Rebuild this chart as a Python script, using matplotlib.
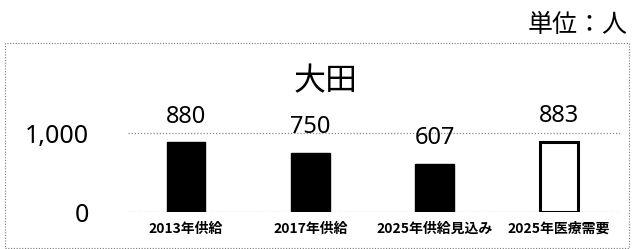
import matplotlib
matplotlib.use("Agg")
import matplotlib.pyplot as plt
from matplotlib.patches import Rectangle

plt.rcParams['font.family'] = ['Noto Sans CJK JP', 'DejaVu Sans']

categories = ["2013年供給", "2017年供給", "2025年供給見込み", "2025年医療需要"]
values = [880, 750, 607, 883]
filled = [True, True, True, False]
title = "大田"
unit_label = "単位：人"
yticks = [0, 1000]
ytick_labels = ["0", "1,000"]

W, H = 635, 249
fig = plt.figure(figsize=(W / 100, H / 100), dpi=100)

def fx(px):
    return px / W

def fy(py):
    return 1 - py / H

# outer dotted frame
fig.patches.append(Rectangle((fx(5), fy(248)), fx(629) - fx(5), fy(43) - fy(248),
                             transform=fig.transFigure, fill=False,
                             edgecolor="#777777", linestyle=(0, (1, 1.5)), linewidth=0.8))

ax_left, ax_right = 128, 620
ax_bottom, ax_top = 212, 60
ax = fig.add_axes([fx(ax_left), fy(ax_bottom), fx(ax_right) - fx(ax_left), fy(ax_top) - fy(ax_bottom)])
px_per_unit = 79 / 1000
ax.set_ylim(0, (ax_bottom - ax_top) / px_per_unit)
spacing = 124.3
xmin = -(186 - ax_left) / spacing
xmax = xmin + (ax_right - ax_left) / spacing
ax.set_xlim(xmin, xmax)

for yv in yticks:
    ax.axhline(yv, color="#888888", linestyle=(0, (1, 1.5)), linewidth=0.9, zorder=1)

x = list(range(len(categories)))
for i, (v, f) in enumerate(zip(values, filled)):
    if f:
        ax.bar(i, v, width=0.31, color="black", edgecolor="black", zorder=2)
    else:
        ax.bar(i, v, width=0.31, color="white", edgecolor="black", linewidth=2.2, zorder=2)
    ax.annotate(f"{v}", (i, v), xytext=(0, 10), textcoords="offset points",
                ha="center", va="bottom", fontsize=17, family=["Noto Sans", "DejaVu Sans"])

ax.set_xticks(x)
ax.set_xticklabels(categories, fontsize=10, fontweight="bold")
ax.set_yticks(yticks)
ax.set_yticklabels(ytick_labels, fontsize=18, family=["Noto Sans", "DejaVu Sans"])
ax.tick_params(axis="y", length=0, pad=28)
ax.tick_params(axis="x", length=0, pad=7)
for s in ax.spines.values():
    s.set_visible(False)
ax.patch.set_alpha(0)

fig.text(fx(326), fy(81), title, ha="center", va="center", fontsize=23)
fig.text(fx(628), fy(25), unit_label, ha="right", va="center", fontsize=18)

fig.savefig("out.png", dpi=100)
